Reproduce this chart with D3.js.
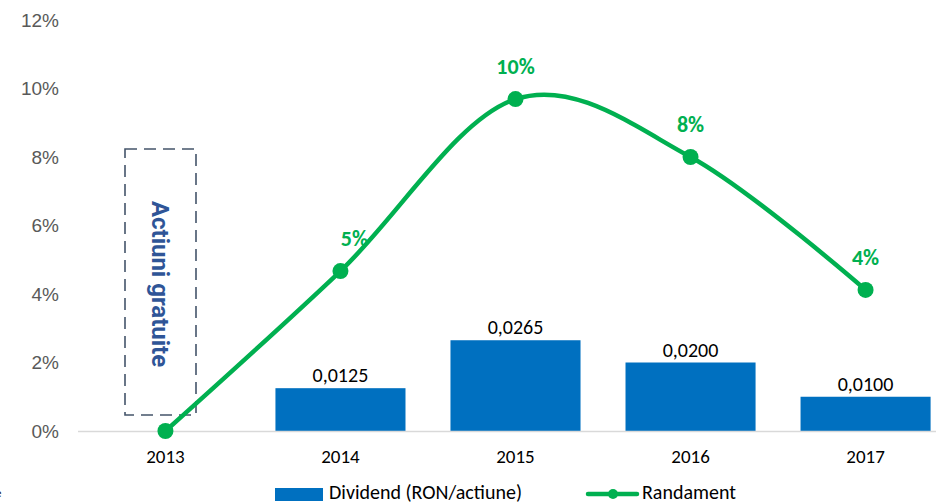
<!DOCTYPE html>
<html>
<head>
<meta charset="utf-8">
<script src="https://cdn.jsdelivr.net/npm/d3@7"></script>
<style>
  body { margin: 0; background: #fff; }
  svg { display: block; }
</style>
</head>
<body>
<div id="chart"></div>
<script>
const years = ['2013', '2014', '2015', '2016', '2017'];
const dividend = [null, 0.0125, 0.0265, 0.02, 0.01];
const dividendLabels = ['', '0,0125', '0,0265', '0,0200', '0,0100'];
const randament = [0, 0.0467, 0.0969, 0.08, 0.0412];
const randamentLabels = ['', '5%', '10%', '8%', '4%'];
const yTicks = [0, 0.02, 0.04, 0.06, 0.08, 0.1, 0.12];

const width = 936;
const height = 504;
const green = '#00b050';
const blue = '#0070c0';
const bodyFont = "Carlito, Lato, 'Open Sans', sans-serif";

const svg = d3
  .select('#chart')
  .append('svg')
  .attr('width', width)
  .attr('height', height);

const xScale = d3
  .scaleBand()
  .domain(years)
  .range([78, 953])
  .paddingInner(0.257)
  .paddingOuter(0.128);

const yScale = d3.scaleLinear().domain([0, 0.12]).range([431, 20]);
const cx = (d) => xScale(d) + xScale.bandwidth() / 2;

// y axis labels
const yAxis = svg.append('g').attr('transform', 'translate(59,0)');
yAxis.call(
  d3.axisLeft(yScale).tickValues(yTicks).tickFormat(d3.format('.0%')).tickSize(0).tickPadding(0)
);
yAxis.select('.domain').remove();
yAxis
  .selectAll('text')
  .style('font-family', "'Liberation Sans', Arial, sans-serif")
  .style('font-size', '19px')
  .attr('fill', '#595959');

// bars
const barData = years
  .map((y, i) => ({ year: y, v: dividend[i], label: dividendLabels[i] }))
  .filter((d) => d.v !== null);
svg
  .append('g')
  .selectAll('rect')
  .data(barData)
  .join('rect')
  .attr('x', (d) => xScale(d.year))
  .attr('width', xScale.bandwidth())
  .attr('y', (d) => yScale(d.v))
  .attr('height', (d) => yScale(0) - yScale(d.v))
  .attr('fill', blue);

svg
  .append('g')
  .selectAll('text')
  .data(barData)
  .join('text')
  .attr('x', (d) => cx(d.year))
  .attr('y', (d) => yScale(d.v) - 6)
  .attr('text-anchor', 'middle')
  .style('font-family', bodyFont)
  .style('font-size', '20px')
  .attr('fill', '#000')
  .text((d) => d.label);

// zero line
svg
  .append('line')
  .attr('x1', 78)
  .attr('x2', width)
  .attr('y1', yScale(0) + 0.5)
  .attr('y2', yScale(0) + 0.5)
  .attr('stroke', '#d9d9d9')
  .attr('stroke-width', 1.5);

// x axis labels
const xAxis = svg.append('g').attr('transform', `translate(0,${yScale(0)})`);
xAxis.call(d3.axisBottom(xScale).tickSize(0).tickPadding(19));
xAxis.select('.domain').remove();
xAxis
  .selectAll('text')
  .style('font-family', bodyFont)
  .style('font-size', '19px')
  .attr('fill', '#000');

// annotation box for 2013
const boxG = svg.append('g');
boxG
  .append('rect')
  .attr('x', 125)
  .attr('y', 149)
  .attr('width', 71)
  .attr('height', 266)
  .attr('fill', 'none')
  .attr('stroke', '#44546a')
  .attr('stroke-width', 1.6)
  .attr('stroke-dasharray', '12,7');
boxG
  .append('text')
  .attr('transform', `translate(152,${(149 + 415) / 2 + 2}) rotate(90)`)
  .attr('text-anchor', 'middle')
  .style('font-family', "Roboto, 'Liberation Sans', sans-serif")
  .style('font-size', '24px')
  .style('font-weight', 700)
  .attr('fill', '#2f5597')
  .text('Actiuni gratuite');

// randament line
const linePts = years.map((y, i) => ({ year: y, v: randament[i], label: randamentLabels[i] }));
const line = d3
  .line()
  .x((d) => cx(d.year))
  .y((d) => yScale(d.v))
  .curve(d3.curveCardinal.tension(0));

svg
  .append('path')
  .datum(linePts)
  .attr('d', line)
  .attr('fill', 'none')
  .attr('stroke', green)
  .attr('stroke-width', 4.5);

svg
  .append('g')
  .selectAll('circle')
  .data(linePts)
  .join('circle')
  .attr('cx', (d) => cx(d.year))
  .attr('cy', (d) => yScale(d.v))
  .attr('r', 8)
  .attr('fill', green);

const labelDx = [0, 14, 0, 0, 0];
svg
  .append('g')
  .selectAll('text')
  .data(linePts)
  .join('text')
  .attr('x', (d, i) => cx(d.year) + labelDx[i])
  .attr('y', (d) => yScale(d.v) - 25)
  .attr('text-anchor', 'middle')
  .style('font-family', bodyFont)
  .style('font-size', '22px')
  .style('font-weight', 700)
  .attr('fill', green)
  .text((d) => d.label);

// legend (sits on the bottom edge, as in the source image)
const legend = svg.append('g');
legend
  .append('rect')
  .attr('x', 275)
  .attr('y', 488)
  .attr('width', 48)
  .attr('height', 13)
  .attr('fill', blue);
legend
  .append('text')
  .attr('x', 329)
  .attr('y', 499)
  .style('font-family', bodyFont)
  .style('font-size', '20px')
  .attr('fill', '#000')
  .text('Dividend (RON/actiune)');
legend
  .append('line')
  .attr('x1', 588)
  .attr('x2', 637)
  .attr('y1', 494)
  .attr('y2', 494)
  .attr('stroke', green)
  .attr('stroke-width', 4.5)
  .attr('stroke-linecap', 'round');
legend
  .append('circle')
  .attr('cx', 613)
  .attr('cy', 494)
  .attr('r', 5)
  .attr('fill', green);
legend
  .append('text')
  .attr('x', 642)
  .attr('y', 499)
  .style('font-family', bodyFont)
  .style('font-size', '20px')
  .attr('fill', '#000')
  .text('Randament');

// leftover text clipped at the left edge
svg
  .append('text')
  .attr('x', -5)
  .attr('y', 497)
  .style('font-family', bodyFont)
  .style('font-size', '13px')
  .attr('fill', '#000')
  .text('e');
</script>
</body>
</html>
